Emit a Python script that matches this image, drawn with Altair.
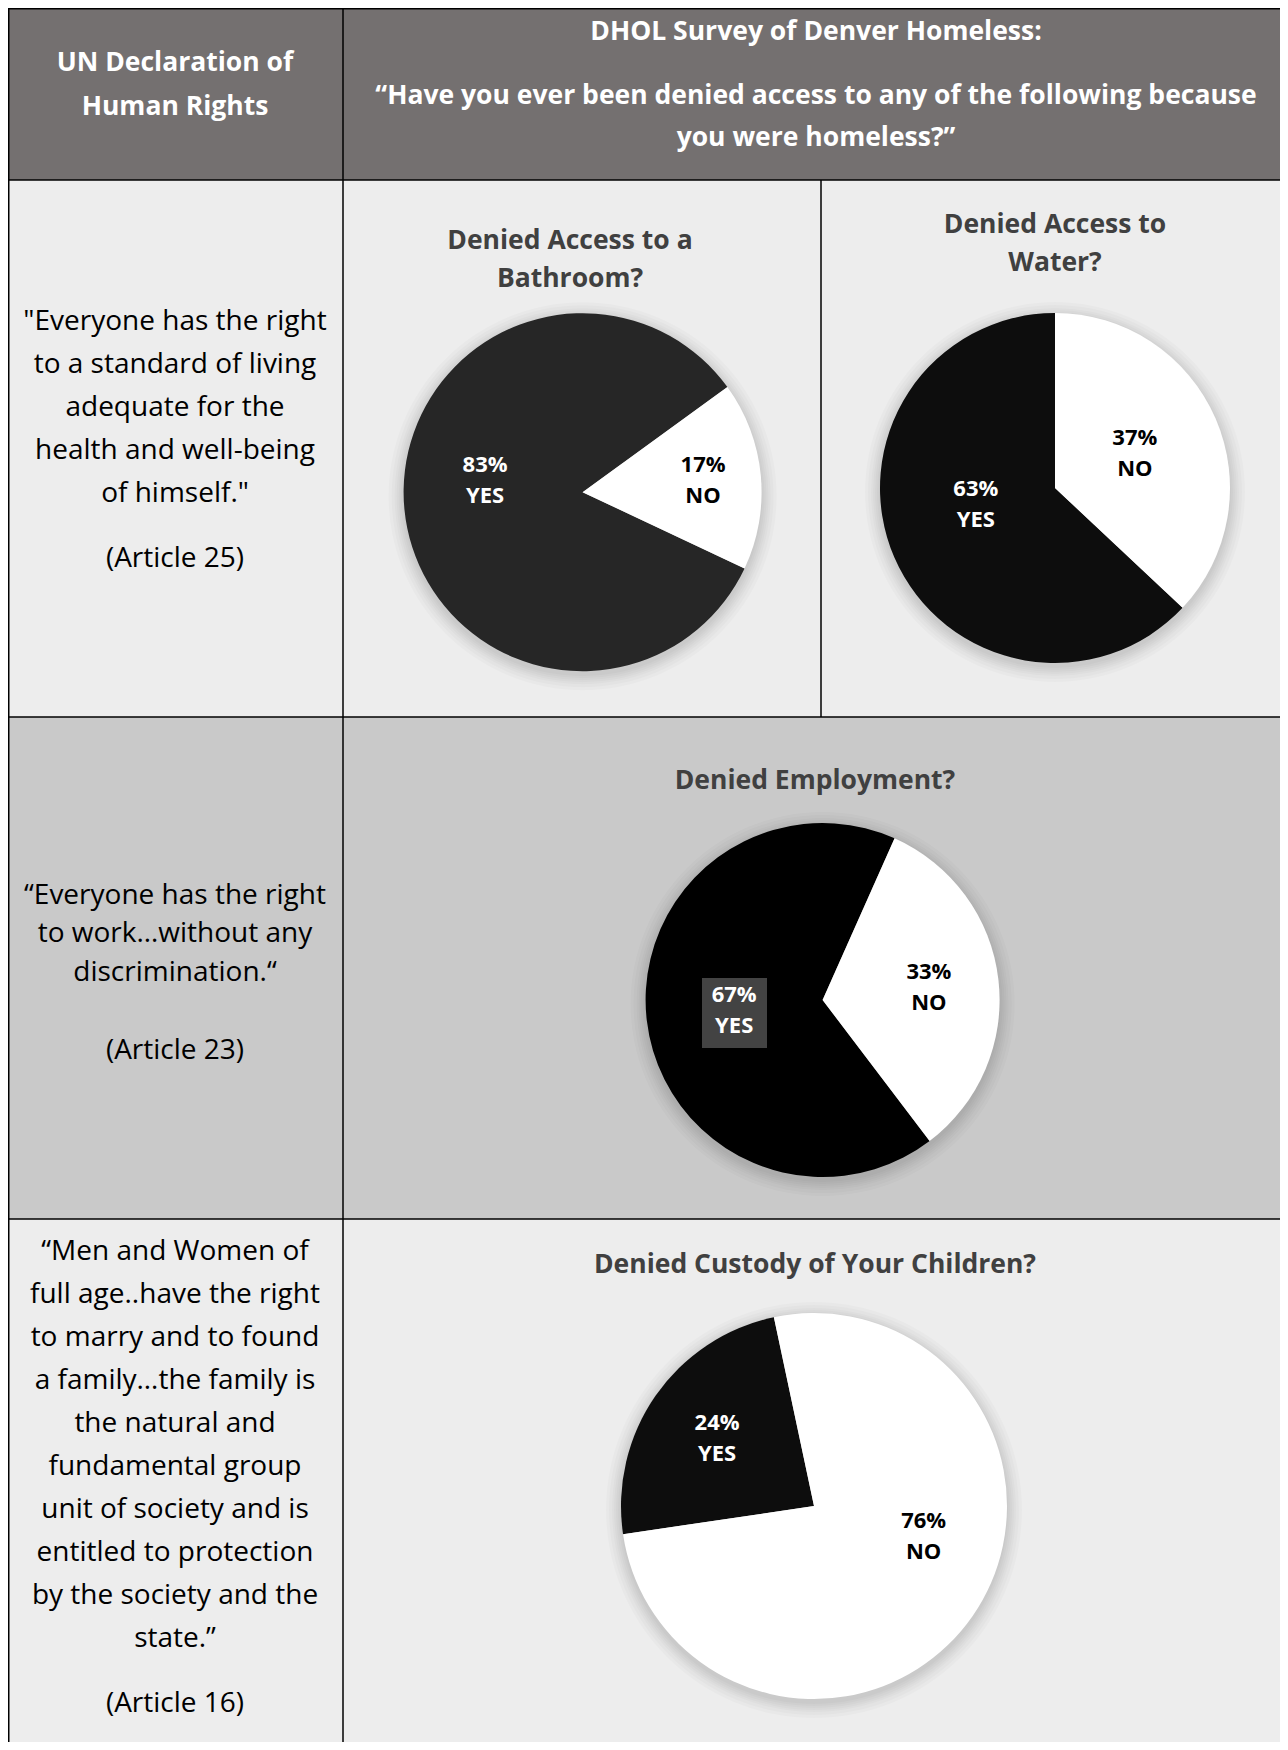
import math
import altair as alt
import pandas as pd

# ---------------- data ----------------
questions = ["Denied Access to a Bathroom?", "Denied Access to Water?",
             "Denied Employment?", "Denied Custody of Your Children?"]
yes_pct = [83, 63, 67, 24]
no_pct = [17, 37, 33, 76]
answers = ["YES", "NO"]

title_lines = [["Denied Access to a", "Bathroom?"], ["Denied Access to", "Water?"],
               ["Denied Employment?"], ["Denied Custody of Your Children?"]]
header_left = ["UN Declaration of", "Human Rights"]
header_right_title = "DHOL Survey of Denver Homeless:"
header_right_question = ["\u201cHave you ever been denied access to any of the following because",
                         "you were homeless?\u201d"]
quotes = [
    ['"Everyone has the right', "to a standard of living", "adequate for the",
     "health and well-being", 'of himself."'],
    ["\u201cEveryone has the right", "to work\u2026without any", "discrimination.\u201c"],
    ["\u201cMen and Women of", "full age..have the right", "to marry and to found",
     "a family\u2026the family is", "the natural and", "fundamental group",
     "unit of society and is", "entitled to protection", "by the society and the",
     "state.\u201d"],
]
articles = ["(Article 25)", "(Article 23)", "(Article 16)"]

rows = []
for q, y, n in zip(questions, yes_pct, no_pct):
    rows.append({"question": q, "answer": answers[0], "pct": y})
    rows.append({"question": q, "answer": answers[1], "pct": n})
df = pd.DataFrame(rows)
one = pd.DataFrame({"k": [0]})

W, H = 1272, 1734
FONT = "Open Sans"
BODY = 28
HEAD = 26.5
TY = 2.5  # small vertical nudge for text blocks


def rect(x, x2, y, y2, color):
    return alt.Chart(one).mark_rect(fill=color).encode(
        x=alt.value(x), x2=alt.value(x2), y=alt.value(y), y2=alt.value(y2))


def rule(x, x2, y, y2, w=1.5):
    return alt.Chart(one).mark_rule(color="black", strokeWidth=w).encode(
        x=alt.value(x), x2=alt.value(x2), y=alt.value(y), y2=alt.value(y2))


def text(lines, x, y, size, color, weight="normal", lh=None):
    # y is the position of the first line
    return alt.Chart(one).mark_text(
        font=FONT, fontSize=size, fontWeight=weight, color=color,
        align="center", baseline="middle", lineHeight=lh or size * 1.2
    ).encode(x=alt.value(x), y=alt.value(y + TY), text=alt.value(lines))


def pie(i, cx, cy, r, yes_color, start_deg, r_yes, r_no,
        yes_dx=0, yes_dy=0, no_dx=0, no_dy=0):
    a = math.radians(start_deg)
    sc = alt.Scale(domain=[0, 100], range=[a, a + 2 * math.pi])
    base = (alt.Chart(df)
            .transform_filter(alt.datum.question == questions[i])
            .transform_calculate(ord="datum.answer == 'NO' ? 0 : 1")
            .transform_stack(stack="pct", groupby=["question"], as_=["s", "e"],
                             sort=[alt.SortField("ord", order="ascending")])
            .transform_calculate(mid="(datum.s + datum.e) / 2",
                                 lbl="datum.pct + '%\\n' + datum.answer"))
    halos = [alt.Chart(one).mark_arc(theta=0, theta2=2 * math.pi, outerRadius=r + k,
                                     fill="black", opacity=0.018)
             .encode(x=alt.value(cx), y=alt.value(cy + 4))
             for k in (1, 3, 5, 7, 9, 12, 15)]
    arc = base.mark_arc(outerRadius=r).encode(
        theta=alt.Theta("s:Q", scale=sc), theta2="e:Q",
        fill=alt.condition(alt.datum.answer == "YES", alt.value(yes_color), alt.value("#ffffff")),
        x=alt.value(cx), y=alt.value(cy))
    lh = 31
    common = dict(font=FONT, fontSize=22, fontWeight="bold", lineBreak="\n",
                  lineHeight=lh, align="center", baseline="middle")
    t_yes = base.transform_filter(alt.datum.answer == "YES").mark_text(
        radius=r_yes, color="#ffffff", dx=yes_dx, dy=yes_dy - lh / 2, **common).encode(
        theta=alt.Theta("mid:Q", scale=sc), text="lbl:N",
        x=alt.value(cx), y=alt.value(cy))
    t_no = base.transform_filter(alt.datum.answer == "NO").mark_text(
        radius=r_no, color="#000000", dx=no_dx, dy=no_dy - lh / 2, **common).encode(
        theta=alt.Theta("mid:Q", scale=sc), text="lbl:N",
        x=alt.value(cx), y=alt.value(cy))
    return halos, arc, t_yes, t_no


layers = []
# cell backgrounds
layers += [rect(0, W, 0, 172, "#747070"), rect(0, W, 172, 709, "#ededed"),
           rect(0, W, 709, 1211, "#c9c9c9"), rect(0, W, 1211, H, "#ededed")]

# header texts
layers.append(text(header_left, 167, 52, HEAD, "#ffffff", "bold", 44))
layers.append(text(header_right_title, 808, 21, HEAD, "#ffffff", "bold"))
layers.append(text(header_right_question, 808, 85, HEAD, "#ffffff", "bold", 42))

# left column texts
layers.append(text(quotes[0], 167, 311, BODY, "#000000", "normal", 43))
layers.append(text(articles[0], 167, 548, BODY, "#000000"))
layers.append(text(quotes[1], 167, 885, BODY, "#000000", "normal", 38.5))
layers.append(text(articles[1], 167, 1040, BODY, "#000000"))
layers.append(text(quotes[2], 167, 1241, BODY, "#000000", "normal", 43))
layers.append(text(articles[2], 167, 1693, BODY, "#000000"))

# pie titles
layers.append(text(title_lines[0], 562, 230, HEAD, "#404040", "bold", 38))
layers.append(text(title_lines[1], 1047, 214, HEAD, "#404040", "bold", 38))
layers.append(text(title_lines[2], 807, 770, HEAD, "#404040", "bold", 38))
layers.append(text(title_lines[3], 807, 1254, HEAD, "#404040", "bold", 38))

# (index, cx, cy, r, yes colour, start angle, label radii, label nudges)
pie_specs = [
    (0, 574.6, 484.2, 179, "#262626", 54, 98, 121, 0, -21, 0, 0),
    (1, 1047, 480, 175, "#0d0d0d", 0, 83, 87, -3, -16, 0, 0),
    (2, 814.6, 992, 177, "#000000", 24, 89, 107, 0, 0, 0, 0),
    (3, 806, 1498, 193, "#0d0d0d", 348, 118, 108, 0, 0, 21, -31),
]
pies = []
for spec in pie_specs:
    halos, arc, t_yes, t_no = pie(*spec)
    extra = []
    if spec[0] == 2:
        extra = [rect(694, 759, 970, 1040, "#434343")]
    pies.append(alt.layer(*halos, arc, *extra, t_yes, t_no))

# borders
borders = [rule(0, W, 0.75, 0.75), rule(0, W, 172, 172), rule(0, W, 709, 709),
           rule(0, W, 1211, 1211), rule(0.75, 0.75, 0, H), rule(335, 335, 0, H),
           rule(813, 813, 172, 709)]

chart = alt.layer(*layers, *pies, *borders).resolve_scale(theta="independent").properties(
    width=W, height=H, autosize=alt.AutoSizeParams(type="none"), padding=0,
    background="#ffffff"
).configure_view(stroke=None)

chart.save("out.html", embed_options={"renderer": "svg", "actions": False})
